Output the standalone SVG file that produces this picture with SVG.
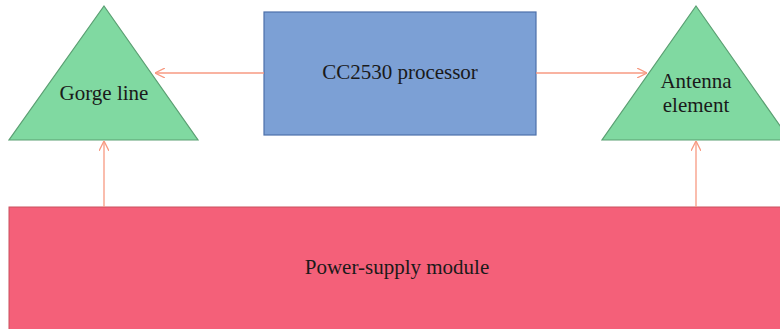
<svg xmlns="http://www.w3.org/2000/svg" width="780" height="329" viewBox="0 0 780 329">
<style>
.tri{fill:#80d9a1;stroke:#5a9f72;stroke-width:1.2}
.txt{font-family:"Liberation Serif","DejaVu Serif",serif;font-size:21px;fill:#1a1a1a;text-anchor:middle}
.conn{stroke:#f79a82;stroke-width:1.3;fill:none}
</style>
<defs>
<marker id="arr" viewBox="0 0 10 10" refX="10" refY="5" markerWidth="10" markerHeight="10" markerUnits="userSpaceOnUse" orient="auto">
<path d="M0,0 L10,5 L0,10" fill="none" stroke="#f79a82" stroke-width="1.3"/>
</marker>
</defs>
<g id="power">
<rect x="9" y="207" width="780" height="130" fill="#f46079" stroke="#c9505f" stroke-width="1"/>
<text class="txt" x="397" y="274">Power-supply module</text>
</g>
<g id="processor">
<rect x="264" y="12" width="272" height="123" fill="#7ca0d5" stroke="#4d70ab" stroke-width="1.2"/>
<text class="txt" x="400" y="79">CC2530 processor</text>
</g>
<g id="gorge">
<polygon class="tri" points="104,6 198,140 9,140"/>
<text class="txt" x="104" y="100">Gorge line</text>
</g>
<g id="antenna">
<polygon class="tri" points="696,6 790,140 602,140"/>
<text class="txt" x="696" y="88">Antenna</text>
<text class="txt" x="696" y="112">element</text>
</g>
<g id="connectors">
<line class="conn" x1="264" y1="73" x2="155" y2="73" marker-end="url(#arr)"/>
<line class="conn" x1="536" y1="73" x2="647" y2="73" marker-end="url(#arr)"/>
<line class="conn" x1="104" y1="207" x2="104" y2="141" marker-end="url(#arr)"/>
<line class="conn" x1="696" y1="207" x2="696" y2="141" marker-end="url(#arr)"/>
</g>
</svg>
